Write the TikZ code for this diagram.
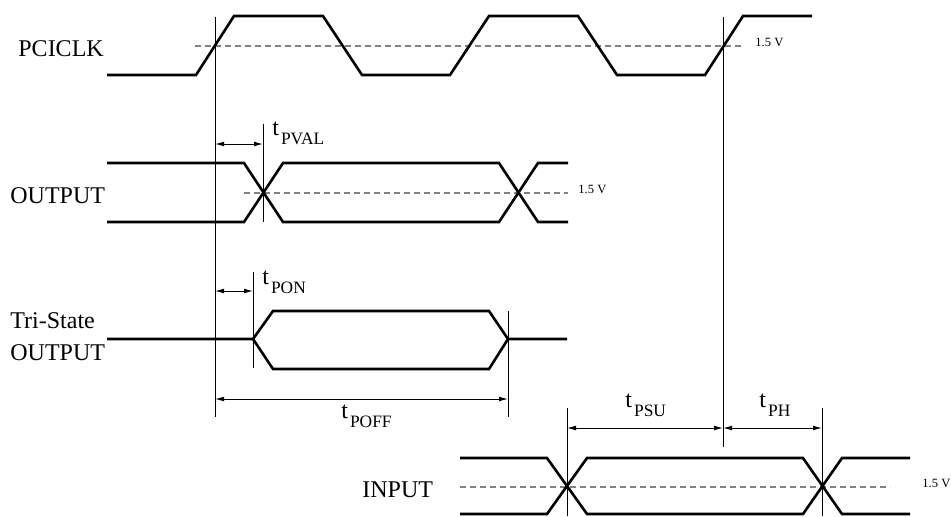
\documentclass[tikz,border=0pt]{standalone}
\usepackage{fontspec}
\setmainfont{Liberation Serif}
\usetikzlibrary{arrows.meta}
\newcommand{\tlab}[1]{t\kern1pt\raisebox{-4.5pt}{\fontsize{8.7}{9}\selectfont #1}}

\begin{document}
\begin{tikzpicture}[>={Latex[length=4.5pt,width=2.4pt]}, x=0.5pt, y=-0.5pt,
    sig/.style={line width=1.3pt},
    refl/.style={line width=0.5pt},
    lvl/.style={gray, line width=0.6pt, dash pattern=on 3pt off 2pt},
    dimarrow/.style={<->, line width=0.5pt},
    lbl/.style={anchor=base west, inner sep=0pt, font=\fontsize{12}{14}\selectfont},
    volt/.style={anchor=base west, inner sep=0pt, font=\fontsize{6.3}{7}\selectfont}]

      \useasboundingbox (0,0) rectangle (951,516);

      \pgfmathsetmacro{\clkHi}{16}
      \pgfmathsetmacro{\clkLo}{75}
      \pgfmathsetmacro{\clkMid}{46}
      \pgfmathsetmacro{\outHi}{163}
      \pgfmathsetmacro{\outLo}{222}
      \pgfmathsetmacro{\outMid}{193}
      \pgfmathsetmacro{\triHi}{311}
      \pgfmathsetmacro{\triLo}{369}
      \pgfmathsetmacro{\triMid}{339}
      \pgfmathsetmacro{\inHi}{458}
      \pgfmathsetmacro{\inLo}{514}
      \pgfmathsetmacro{\inMid}{487}

      % PCICLK
      \node [lbl, name=clk] at (18,56) {PCICLK};
      \draw [lvl] (195,\clkMid) -- (744,\clkMid);
      \draw [sig] (107,\clkLo) -- (196,\clkLo) -- (234,\clkHi) -- (323,\clkHi)
        -- (362,\clkLo) -- (450,\clkLo) -- (489,\clkHi) -- (578,\clkHi)
        -- (617,\clkLo) -- (705,\clkLo) -- (743,\clkHi) -- (812,\clkHi);
      \node [volt, name=v1] at (755,\clkMid) {1.5 V};

      % OUTPUT
      \node [lbl, name=out] at (10,203) {OUTPUT};
      \draw [lvl] (244,\outMid) -- (568,\outMid);
      \draw [sig] (107,\outHi) -- (244,\outHi) -- (283,\outLo) -- (499,\outLo)
        -- (538,\outHi) -- (568,\outHi);
      \draw [sig] (107,\outLo) -- (244,\outLo) -- (283,\outHi) -- (499,\outHi)
        -- (538,\outLo) -- (568,\outLo);
      \node [volt, name=v2] at (578,\outMid) {1.5 V};

      % Tri-State OUTPUT
      \node [lbl, name=tri1] at (10,328) {Tri-State};
      \node [lbl, name=tri2] at (10,360) {OUTPUT};
      \draw [sig] (107,\triMid) -- (253,\triMid) -- (273,\triHi) -- (489,\triHi)
        -- (508,\triMid) -- (567,\triMid);
      \draw [sig] (253,\triMid) -- (273,\triLo) -- (489,\triLo) -- (508,\triMid);

      % INPUT
      \node [lbl, name=in] at (362,497) {INPUT};
      \draw [lvl] (460,\inMid) -- (890,\inMid);
      \draw [sig] (460,\inHi) -- (547,\inHi) -- (587,\inLo) -- (803,\inLo)
        -- (842,\inHi) -- (910,\inHi);
      \draw [sig] (460,\inLo) -- (547,\inLo) -- (587,\inHi) -- (803,\inHi)
        -- (842,\inLo) -- (910,\inLo);
      \node [volt, name=v3] at (922,\inMid) {1.5 V};

      % reference lines
      \coordinate (e1top) at (215,17);
      \coordinate (e1bot) at (215,417);
      \coordinate (e2top) at (723,17);
      \coordinate (e2bot) at (723,447);
      \coordinate (pvalTop) at (263,124);
      \coordinate (pvalBot) at (263,222);
      \coordinate (ponTop) at (253,272);
      \coordinate (ponBot) at (253,368);
      \coordinate (poffTop) at (508,311);
      \coordinate (poffBot) at (508,417);
      \coordinate (suTop) at (567,408);
      \coordinate (suBot) at (567,516);
      \coordinate (phTop) at (822,408);
      \coordinate (phBot) at (822,516);

      \draw [refl] (e1top) -- (e1bot);
      \draw [refl] (e2top) -- (e2bot);
      \draw [refl] (pvalTop) -- (pvalBot);
      \draw [refl] (ponTop) -- (ponBot);
      \draw [refl] (poffTop) -- (poffBot);
      \draw [refl] (suTop) -- (suBot);
      \draw [refl] (phTop) -- (phBot);

      % timings
      \draw [dimarrow] (e1top |- 0,144) -- (pvalTop |- 0,144);
      \node [lbl, name=tpval] at (272,135) {\tlab{PVAL}};

      \draw [dimarrow] (e1top |- 0,291) -- (ponTop |- 0,291);
      \node [lbl, name=tpon] at (262,284) {\tlab{PON}};

      \draw [dimarrow] (e1top |- 0,399) -- (poffTop |- 0,399);
      \node [lbl, name=tpoff] at (341,418) {\tlab{POFF}};

      \draw [dimarrow] (suTop |- 0,428) -- (e2top |- 0,428);
      \node [lbl, name=tpsu] at (625,407) {\tlab{PSU}};

      \draw [dimarrow] (e2top |- 0,428) -- (phTop |- 0,428);
      \node [lbl, name=tph] at (759,407) {\tlab{PH}};

    \end{tikzpicture}
\end{document}
